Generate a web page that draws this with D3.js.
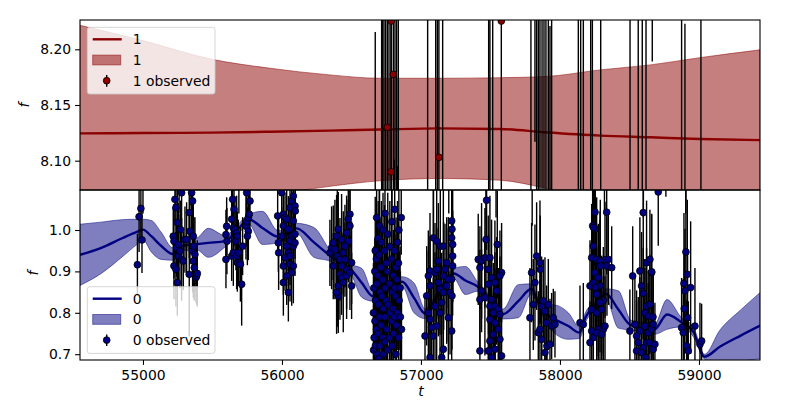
<!DOCTYPE html>
<html><head><meta charset="utf-8">
<script src="https://cdn.jsdelivr.net/npm/d3@7"></script>
<style>body{margin:0;background:#fff} text{font-family:"DejaVu Sans",sans-serif;fill:#000}</style>
</head><body><svg id="c" width="800" height="400"></svg>
<script>
// ---------- data ----------
const xTicks = [55000, 56000, 57000, 58000, 59000];
const yTicksTop = [8.10, 8.15, 8.20];
const yTicksBot = [0.7, 0.8, 0.9, 1.0];
const seriesNames = ["1", "0"];

// GP prediction, band 1: [t, mean, halfwidth]
const gp1 = [
  [54547, 8.1245, 0.097], [55000, 8.1248, 0.083], [55489, 8.1252, 0.066], [55914, 8.1260, 0.057],
  [56345, 8.1270, 0.050], [56705, 8.1280, 0.046], [57137, 8.1290, 0.045], [57568, 8.1285, 0.046],
  [57892, 8.1255, 0.050], [58288, 8.1225, 0.059], [58650, 8.1210, 0.065], [59007, 8.1195, 0.073],
  [59439, 8.1185, 0.081]
];
// GP prediction, band 0: [t, mean, halfwidth]
const gp0 = [
  [54547, 0.940, 0.074], [54700, 0.957, 0.062], [54850, 0.980, 0.045], [54960, 0.996, 0.030],
  [55000, 1.001, 0.025], [55060, 0.985, 0.038], [55130, 0.962, 0.033], [55215, 0.942, 0.015],
  [55290, 0.962, 0.012], [55390, 0.966, 0.015], [55470, 0.969, 0.035], [55590, 0.973, 0.014],
  [55680, 1.000, 0.012], [55760, 1.026, 0.012], [55860, 1.005, 0.040], [55970, 0.984, 0.015],
  [56040, 0.990, 0.012], [56105, 1.004, 0.012], [56230, 0.970, 0.036], [56350, 0.937, 0.013],
  [56420, 0.920, 0.012], [56500, 0.903, 0.013], [56575, 0.872, 0.035], [56655, 0.840, 0.012],
  [56760, 0.860, 0.010], [56865, 0.875, 0.012], [56950, 0.836, 0.036], [57030, 0.798, 0.012],
  [57130, 0.850, 0.010], [57235, 0.895, 0.012], [57320, 0.878, 0.034], [57405, 0.864, 0.012],
  [57500, 0.830, 0.010], [57590, 0.797, 0.012], [57700, 0.828, 0.040], [57795, 0.858, 0.012],
  [57830, 0.835, 0.010], [57870, 0.808, 0.012], [57960, 0.785, 0.034], [58060, 0.768, 0.032],
  [58140, 0.752, 0.014], [58185, 0.790, 0.012], [58260, 0.820, 0.010], [58330, 0.846, 0.012],
  [58420, 0.808, 0.045], [58510, 0.770, 0.012], [58600, 0.765, 0.012], [58680, 0.760, 0.012],
  [58770, 0.796, 0.036], [58870, 0.778, 0.012], [58960, 0.754, 0.012], [59040, 0.694, 0.006],
  [59150, 0.718, 0.040], [59300, 0.745, 0.062], [59440, 0.769, 0.080]
];

// observations, band 1: [t, f, err]
const obs1 = [
  [56671, 8.000, 0.2155], [56717, 8.310, 0.40], [56724, 7.950, 0.35], [56734, 8.280, 0.30],
  [56746, 7.900, 0.40], [56758, 8.130, 0.35], [56770, 8.350, 0.40], [56784, 8.090, 0.30],
  [56786, 8.2254, 0.30], [56801, 8.1775, 0.40], [56808, 7.950, 0.151], [56813, 8.320, 0.35],
  [56825, 7.960, 0.30], [56832, 7.940, 0.155], [56837, 8.300, 0.30],
  [57048, 8.400, 0.45], [57106, 7.900, 0.40], [57118, 8.300, 0.35], [57129, 8.103, 0.35],
  [57156, 7.950, 0.30], [57487, 8.350, 0.40], [57496, 7.920, 0.35], [57516, 8.280, 0.30],
  [57578, 8.2254, 0.30], [57791, 8.310, 0.40], [57820, 8.300, 0.183], [57832, 7.900, 0.40],
  [57844, 8.330, 0.35], [57856, 7.950, 0.30], [57871, 8.360, 0.40], [57885, 7.930, 0.35],
  [57899, 8.290, 0.30], [57916, 7.980, 0.30], [57928, 7.950, 0.271], [57940, 8.310, 0.35],
  [58132, 8.300, 0.30], [58149, 7.950, 0.35], [58168, 8.320, 0.40], [58221, 7.920, 0.35],
  [58233, 8.300, 0.30], [58293, 7.960, 0.30], [58504, 8.330, 0.40], [58563, 7.930, 0.35],
  [58592, 8.300, 0.30], [58619, 7.920, 0.40], [58664, 8.350, 0.161], [58875, 8.310, 0.35],
  [58899, 7.900, 0.323], [59014, 8.320, 0.40]
];

// observations, band 0: [t, f, err]
const obs0 = [
  // ~55000
  [54960, 0.916, 0.075], [54972, 1.032, 0.085], [54985, 1.052, 0.070], [54993, 0.976, 0.080], [55000, 1.130, 0.090],
  // ~55300
  [55218, 0.985, 0.07], [55223, 0.973, 0.09], [55223, 0.913, 0.08], [55230, 1.074, 0.06], [55237, 1.054, 0.10],
  [55237, 0.905, 0.09], [55242, 0.957, 0.07], [55247, 1.018, 0.08], [55247, 0.873, 0.08], [55254, 0.965, 0.10],
  [55254, 0.937, 0.06], [55266, 0.949, 0.09], [55271, 1.001, 0.07], [55278, 1.090, 0.08], [55278, 0.929, 0.10],
  [55290, 0.925, 0.07], [55302, 0.977, 0.08], [55314, 0.977, 0.09], [55333, 1.042, 0.11], [55333, 0.893, 0.15],
  [55338, 0.997, 0.08], [55350, 1.090, 0.09], [55357, 1.070, 0.07], [55357, 0.949, 0.10], [55362, 0.985, 0.08],
  [55362, 0.925, 0.09], [55367, 0.961, 0.07], [55369, 0.909, 0.08], [55374, 0.941, 0.09], [55381, 0.885, 0.06],
  [55386, 0.889, 0.07], [55391, 0.895, 0.08], [55260, 1.140, 0.10], [55345, 1.150, 0.09],
  // ~55680
  [55597, 0.989, 0.06], [55602, 1.009, 0.07], [55604, 0.973, 0.08], [55597, 0.929, 0.07], [55638, 1.026, 0.08],
  [55645, 1.074, 0.06], [55655, 1.050, 0.09], [55650, 1.005, 0.07], [55662, 1.001, 0.08], [55638, 0.937, 0.06],
  [55650, 0.945, 0.08], [55669, 0.973, 0.07], [55674, 0.993, 0.09], [55679, 0.985, 0.06], [55674, 0.937, 0.08],
  [55679, 0.921, 0.07], [55686, 0.945, 0.08], [55698, 0.921, 0.06], [55701, 0.917, 0.09], [55710, 0.869, 0.10],
  [55717, 0.961, 0.07], [55741, 1.009, 0.08], [55746, 1.021, 0.06], [55746, 1.090, 0.07], [55758, 1.030, 0.08],
  [55758, 0.997, 0.07], [55765, 1.038, 0.06], [55770, 1.070, 0.08], [55751, 0.985, 0.07], [55690, 1.130, 0.09],
  // ~56050
  [55969, 1.034, 0.08], [55974, 0.969, 0.07], [55976, 0.945, 0.09], [55998, 1.090, 0.07], [56010, 1.038, 0.08],
  [56022, 1.030, 0.06], [56034, 1.026, 0.09], [56010, 1.010, 0.07], [56046, 1.002, 0.08], [56058, 1.054, 0.07],
  [56070, 1.070, 0.06], [56082, 1.082, 0.08], [56094, 1.058, 0.07], [56096, 1.046, 0.08], [56082, 1.022, 0.09],
  [56070, 0.985, 0.07], [56058, 0.973, 0.08], [56034, 0.961, 0.06], [56082, 0.961, 0.07], [56046, 0.945, 0.08],
  [56010, 0.913, 0.07], [56058, 0.917, 0.09], [56070, 0.897, 0.08], [56034, 0.889, 0.07], [56010, 0.873, 0.08],
  [56046, 0.849, 0.07], [56094, 0.990, 0.06], [56094, 0.969, 0.08], [55998, 0.985, 0.07], [56022, 0.933, 0.08],
  [56058, 0.937, 0.07], [56082, 0.913, 0.09],
  // ~56420
  [56345, 0.945, 0.08], [56357, 0.957, 0.10], [56369, 0.969, 0.09], [56381, 0.953, 0.12], [56393, 0.985, 0.10],
  [56405, 1.002, 0.09], [56398, 0.937, 0.17], [56417, 0.929, 0.10], [56369, 0.913, 0.08], [56429, 0.977, 0.11],
  [56441, 0.945, 0.10], [56453, 0.929, 0.09], [56465, 0.905, 0.12], [56477, 0.973, 0.10], [56489, 1.038, 0.08],
  [56477, 1.026, 0.09], [56489, 1.010, 0.10], [56417, 0.893, 0.11], [56429, 0.885, 0.09], [56405, 0.865, 0.10],
  [56441, 0.873, 0.12], [56465, 0.889, 0.08], [56489, 0.897, 0.09], [56501, 0.921, 0.10], [56501, 0.865, 0.08],
  [56405, 0.841, 0.09], [56393, 0.849, 0.10], [56429, 0.913, 0.08], [56453, 0.961, 0.10], [56465, 0.993, 0.09],
  // ~56750
  [56661, 0.86, 0.10], [56658, 0.80, 0.12], [56663, 0.74, 0.09], [56659, 0.71, 0.11],
  [56671, 0.95, 0.13], [56668, 0.90, 0.08], [56673, 0.83, 0.10], [56669, 0.78, 0.12], [56672, 0.72, 0.09],
  [56681, 1.03, 0.10], [56679, 0.93, 0.12], [56684, 0.87, 0.09], [56680, 0.76, 0.11], [56683, 0.70, 0.13],
  [56692, 0.98, 0.09], [56689, 0.89, 0.14], [56694, 0.82, 0.10], [56690, 0.75, 0.08],
  [56702, 1.01, 0.11], [56699, 0.94, 0.09], [56705, 0.85, 0.12], [56701, 0.79, 0.10], [56704, 0.72, 0.13], [56698, 0.69, 0.09],
  [56715, 0.97, 0.10], [56712, 0.91, 0.12], [56718, 0.84, 0.08], [56714, 0.77, 0.11],
  [56727, 1.00, 0.09], [56724, 0.88, 0.13], [56729, 0.81, 0.10], [56725, 0.74, 0.12], [56728, 0.70, 0.08],
  [56741, 1.04, 0.10], [56738, 0.95, 0.11], [56743, 0.86, 0.09], [56739, 0.79, 0.14], [56742, 0.73, 0.10],
  [56751, 0.92, 0.12], [56749, 0.83, 0.09], [56753, 0.76, 0.11],
  [56761, 0.99, 0.10], [56758, 0.90, 0.13], [56763, 0.82, 0.08], [56760, 0.71, 0.12],
  [56776, 0.96, 0.11], [56773, 0.87, 0.09], [56778, 0.80, 0.12], [56774, 0.74, 0.10],
  [56791, 1.02, 0.09], [56788, 0.93, 0.12], [56793, 0.85, 0.10], [56789, 0.78, 0.13], [56792, 0.72, 0.09],
  [56801, 0.89, 0.11], [56799, 0.81, 0.10], [56803, 0.75, 0.12],
  [56811, 1.05, 0.10], [56808, 0.95, 0.09], [56813, 0.86, 0.13], [56809, 0.79, 0.10],
  [56821, 0.91, 0.12], [56818, 0.84, 0.09], [56823, 0.77, 0.11], [56819, 0.70, 0.10],
  [56831, 0.97, 0.10], [56828, 0.88, 0.12], [56833, 0.80, 0.09],
  [56841, 1.00, 0.11], [56838, 0.92, 0.10], [56843, 0.83, 0.12], [56839, 0.74, 0.09],
  [56850, 0.86, 0.10], [56852, 0.79, 0.11], [56858, 1.03, 0.09], [56860, 0.76, 0.10],
  [56700, 1.13, 0.12], [56790, 1.15, 0.10],
  // ~57130
  [57041, 0.841, 0.12], [57053, 0.800, 0.15], [57029, 0.744, 0.10], [57065, 0.901, 0.14], [57089, 0.981, 0.16],
  [57101, 0.897, 0.12], [57113, 0.973, 0.15], [57125, 0.873, 0.13], [57137, 0.857, 0.11], [57139, 0.961, 0.14],
  [57149, 0.825, 0.12], [57161, 0.961, 0.16], [57163, 0.889, 0.13], [57173, 0.905, 0.11], [57185, 0.865, 0.14],
  [57197, 0.788, 0.12], [57209, 0.849, 0.15], [57221, 1.022, 0.13], [57223, 1.002, 0.12], [57221, 0.981, 0.10],
  [57228, 0.965, 0.14], [57228, 0.937, 0.11], [57228, 0.913, 0.12], [57221, 0.881, 0.10], [57223, 0.841, 0.13],
  [57221, 0.756, 0.12], [57113, 0.905, 0.10], [57065, 0.784, 0.13], [57077, 0.764, 0.11], [57089, 0.744, 0.14],
  [57161, 0.712, 0.12], [57065, 0.692, 0.10], [57149, 0.692, 0.13], [57053, 0.889, 0.11], [57197, 0.881, 0.15],
  [57161, 0.849, 0.10], [57125, 0.925, 0.14], [57137, 0.800, 0.12], [57101, 0.816, 0.13], [57185, 0.921, 0.11],
  [57065, 0.865, 0.12], [57113, 0.768, 0.14], [57090, 1.140, 0.15], [57200, 1.160, 0.12],
  // ~57500
  [57472, 1.072, 0.12], [57468, 0.977, 0.15], [57549, 0.965, 0.13], [57412, 0.929, 0.11], [57436, 0.925, 0.14],
  [57460, 0.933, 0.12], [57496, 0.933, 0.15], [57424, 0.909, 0.10], [57484, 0.905, 0.13], [57580, 0.897, 0.12],
  [57508, 0.885, 0.14], [57568, 0.889, 0.11], [57486, 0.869, 0.12], [57532, 0.873, 0.15], [57436, 0.853, 0.10],
  [57544, 0.853, 0.13], [57424, 0.832, 0.12], [57460, 0.837, 0.14], [57508, 0.832, 0.11], [57496, 0.816, 0.12],
  [57532, 0.816, 0.13], [57556, 0.808, 0.10], [57520, 0.800, 0.12], [57568, 0.796, 0.14], [57496, 0.784, 0.11],
  [57532, 0.776, 0.13], [57556, 0.760, 0.12], [57520, 0.748, 0.10], [57496, 0.732, 0.13], [57568, 0.736, 0.11],
  [57424, 0.708, 0.12], [57484, 0.708, 0.10], [57532, 0.712, 0.13], [57580, 0.696, 0.11], [57508, 0.692, 0.12],
  [57470, 1.150, 0.13], [57540, 1.130, 0.10],
  // ~57860
  [57832, 0.937, 0.13], [57796, 0.897, 0.12], [57820, 0.873, 0.14], [57808, 0.820, 0.11], [57784, 0.788, 0.12],
  [57844, 0.752, 0.10], [57858, 0.905, 0.13], [57856, 0.921, 0.15], [57868, 0.816, 0.12], [57880, 0.829, 0.10],
  [57892, 0.804, 0.13], [57916, 0.820, 0.11], [57856, 0.760, 0.12], [57904, 0.776, 0.09], [57940, 0.768, 0.08],
  [57952, 0.788, 0.07], [57964, 0.772, 0.08], [57906, 0.720, 0.10], [57928, 0.724, 0.11], [57892, 0.704, 0.12],
  [57868, 0.736, 0.10], [57800, 1.140, 0.13],
  // ~58150
  [58144, 0.776, 0.09], [58168, 0.772, 0.10],
  // ~58270
  [58252, 1.043, 0.13], [58336, 1.043, 0.15], [58235, 1.010, 0.14], [58254, 1.003, 0.12], [58240, 0.961, 0.16],
  [58228, 0.933, 0.13], [58264, 0.929, 0.15], [58288, 0.925, 0.12], [58324, 0.928, 0.14], [58348, 0.929, 0.11],
  [58290, 0.913, 0.16], [58338, 0.913, 0.12], [58372, 0.909, 0.10], [58252, 0.897, 0.15], [58276, 0.885, 0.13],
  [58216, 0.865, 0.11], [58240, 0.873, 0.14], [58288, 0.865, 0.16], [58254, 0.861, 0.12], [58264, 0.845, 0.15],
  [58312, 0.829, 0.13], [58288, 0.825, 0.14], [58228, 0.808, 0.12], [58264, 0.800, 0.16], [58300, 0.808, 0.13],
  [58228, 0.756, 0.12], [58276, 0.760, 0.15], [58312, 0.760, 0.11], [58240, 0.740, 0.13], [58264, 0.752, 0.12],
  [58216, 0.728, 0.10], [58300, 0.748, 0.14], [58324, 0.768, 0.12], [58241, 1.006, 0.15],
  [58250, 1.150, 0.12], [58320, 1.140, 0.10],
  // ~58600
  [58523, 0.889, 0.12], [58599, 1.042, 0.14], [58575, 0.901, 0.13], [58623, 0.921, 0.15], [58647, 0.929, 0.12],
  [58659, 0.897, 0.14], [58587, 0.865, 0.13], [58599, 0.847, 0.11], [58623, 0.816, 0.14], [58647, 0.820, 0.12],
  [58611, 0.800, 0.13], [58635, 0.792, 0.11], [58503, 0.756, 0.10], [58539, 0.772, 0.12], [58575, 0.756, 0.13],
  [58551, 0.744, 0.11], [58611, 0.768, 0.14], [58635, 0.752, 0.12], [58659, 0.760, 0.10], [58671, 0.772, 0.12],
  [58563, 0.728, 0.11], [58599, 0.716, 0.13], [58623, 0.728, 0.12], [58647, 0.728, 0.10], [58671, 0.712, 0.11],
  [58551, 0.708, 0.12], [58587, 0.704, 0.10], [58618, 0.692, 0.12], [58683, 0.724, 0.10], [58669, 0.790, 0.11],
  [58660, 0.899, 0.14], [58707, 1.092, 0.13], [58600, 1.160, 0.13], [58762, 1.220, 0.14],
  // ~58950
  [58906, 0.947, 0.20], [58916, 0.893, 0.18], [58892, 0.871, 0.17], [58899, 0.853, 0.15], [58940, 0.861, 0.16],
  [58894, 0.810, 0.14], [58918, 0.788, 0.16], [58875, 0.764, 0.12], [58887, 0.752, 0.13], [58971, 0.768, 0.14],
  [58911, 0.720, 0.11], [58923, 0.708, 0.12], [59007, 0.724, 0.10], [59019, 0.732, 0.09], [58905, 1.140, 0.10]
];

// ---------- layout ----------
const svg = d3.select("#c");
const L = 80, R = 760, T1 = 20, B1 = 190, T2 = 190, B2 = 360;
const x = d3.scaleLinear().domain([54547, 59439]).range([L, R]);
const yTop = d3.scaleLinear().domain([8.0737, 8.2263]).range([B1, T1]);
const yBot = d3.scaleLinear().domain([0.686, 1.0966]).range([B2, T2]);

const defs = svg.append("defs");
function clip(id, y0, y1) {
  defs.append("clipPath").attr("id", id).append("rect")
    .attr("x", L).attr("y", y0).attr("width", R - L).attr("height", y1 - y0);
}
clip("cTop", T1, B1); clip("cBot", T2, B2);

function drawPanel(yS, gp, obs, color, clipId) {
  const g = svg.append("g").attr("clip-path", `url(#${clipId})`);
  const area = d3.area().x(d => x(d[0])).y0(d => yS(d[1] - d[2])).y1(d => yS(d[1] + d[2]))
    .curve(d3.curveMonotoneX);
  g.append("path").attr("d", area(gp)).attr("fill", color).attr("fill-opacity", 0.5)
    .attr("stroke", color).attr("stroke-opacity", 0.5).attr("stroke-width", 1);
  const line = d3.line().x(d => x(d[0])).y(d => yS(d[1])).curve(d3.curveMonotoneX);
  g.append("path").attr("d", line(gp)).attr("fill", "none").attr("stroke", color).attr("stroke-width", 2.4);
  g.selectAll(null).data(obs).enter().append("line")
    .attr("x1", d => x(d[0])).attr("x2", d => x(d[0]))
    .attr("y1", d => yS(d[1] - d[2])).attr("y2", d => yS(d[1] + d[2]))
    .attr("stroke", "#000").attr("stroke-width", 1.4);
  g.selectAll(null).data(obs).enter().append("circle")
    .attr("cx", d => x(d[0])).attr("cy", d => yS(d[1])).attr("r", 3.4)
    .attr("fill", color).attr("stroke", "#000").attr("stroke-width", 0.8);
}
drawPanel(yTop, gp1, obs1, "#8b0000", "cTop");
drawPanel(yBot, gp0, obs0, "#000080", "cBot");

// ---------- axes ----------
function yAxis(yS, ticks, fmt) {
  const g = svg.append("g").attr("transform", `translate(${L},0)`)
    .call(d3.axisLeft(yS).tickValues(ticks).tickFormat(d3.format(fmt)).tickSize(4.9).tickPadding(4));
  g.select(".domain").remove();
  g.selectAll(".tick line").attr("stroke", "#000").attr("stroke-width", 1.1);
  g.selectAll(".tick text").attr("font-size", 13.9).attr("font-family", "DejaVu Sans").attr("fill", "#000");
}
yAxis(yTop, yTicksTop, ".2f");
yAxis(yBot, yTicksBot, ".1f");
const gx = svg.append("g").attr("transform", `translate(0,${B2})`)
  .call(d3.axisBottom(x).tickValues(xTicks).tickFormat(d3.format("d")).tickSize(4.9).tickPadding(5));
gx.select(".domain").remove();
gx.selectAll(".tick line").attr("stroke", "#000").attr("stroke-width", 1.1);
gx.selectAll(".tick text").attr("font-size", 13.9).attr("font-family", "DejaVu Sans").attr("fill", "#000");

// frames
[[T1, B1], [T2, B2]].forEach(([a, b]) => {
  svg.append("rect").attr("x", L).attr("y", a).attr("width", R - L).attr("height", b - a)
    .attr("fill", "none").attr("stroke", "#000").attr("stroke-width", 1.1);
});

// axis labels
function ylab(xp, yp) {
  svg.append("text").attr("transform", `translate(${xp},${yp}) rotate(-90)`)
    .attr("text-anchor", "middle").attr("dominant-baseline", "central")
    .attr("font-size", 13.9).attr("font-style", "italic").text("f");
}
ylab(24, 105);
ylab(33, 273);
svg.append("text").attr("x", 421).attr("y", 396).attr("text-anchor", "middle")
  .attr("font-size", 13.9).attr("font-style", "italic").text("t");

// ---------- legends ----------
function legend(y0, name, color) {
  const g = svg.append("g").attr("transform", `translate(87.3,${y0})`);
  g.append("rect").attr("width", 127.7).attr("height", 66.7).attr("rx", 2.5)
    .attr("fill", "#fff").attr("fill-opacity", 0.8).attr("stroke", "#ccc").attr("stroke-opacity", 0.8);
  g.append("line").attr("x1", 5.4).attr("x2", 34.4).attr("y1", 12).attr("y2", 12)
    .attr("stroke", color).attr("stroke-width", 2.4);
  g.append("rect").attr("x", 5.4).attr("y", 27.8).attr("width", 28).attr("height", 9.8)
    .attr("fill", color).attr("fill-opacity", 0.5).attr("stroke", color).attr("stroke-opacity", 0.5);
  g.append("line").attr("x1", 19.4).attr("x2", 19.4).attr("y1", 47.8).attr("y2", 59.4)
    .attr("stroke", "#000").attr("stroke-width", 1.4);
  g.append("circle").attr("cx", 19.4).attr("cy", 53.4).attr("r", 3.4)
    .attr("fill", color).attr("stroke", "#000").attr("stroke-width", 0.8);
  const labels = [name, name, name + " observed"];
  [12, 32.7, 53.4].forEach((yy, i) => {
    g.append("text").attr("x", 45.4).attr("y", yy).attr("dominant-baseline", "central")
      .attr("font-size", 13.9).text(labels[i]);
  });
}
legend(27.3, seriesNames[0], "#8b0000");
legend(286.7, seriesNames[1], "#000080");
</script>
</body></html>
